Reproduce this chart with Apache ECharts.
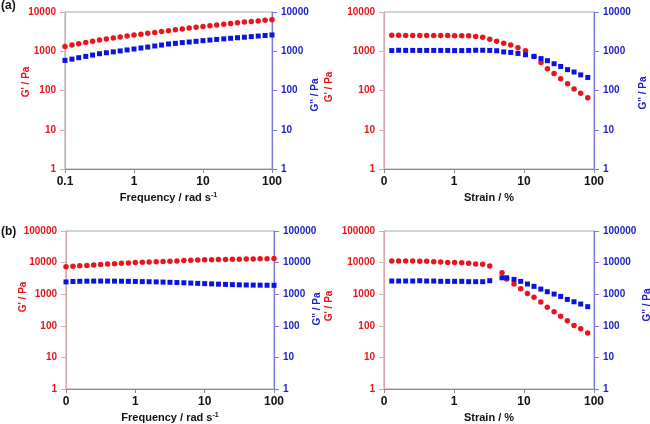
<!DOCTYPE html>
<html><head><meta charset="utf-8">
<script src="https://cdn.jsdelivr.net/npm/echarts@6/dist/echarts.min.js"></script>
<style>html,body{margin:0;padding:0;background:#fff}#c{width:650px;height:424px}</style>
</head><body><div id="c"></div>
<script>
// ---- data ----
const freq = [0.1,0.126,0.158,0.2,0.251,0.316,0.398,0.501,0.631,0.794,1,1.26,1.58,2,2.51,3.16,3.98,5.01,6.31,7.94,10,12.6,15.8,20,25.1,31.6,39.8,50.1,63.1,79.4,100];
const aFreqGp  = [1330,1435,1550,1670,1800,1940,2060,2180,2310,2450,2600,2730,2870,3020,3180,3340,3510,3690,3890,4090,4300,4490,4690,4890,5110,5340,5530,5730,5940,6150,6360];
const aFreqGpp = [585,630,685,740,800,865,915,965,1020,1080,1140,1210,1280,1360,1440,1530,1590,1660,1720,1790,1860,1930,2000,2070,2140,2210,2280,2360,2440,2520,2600];

const aStrain = [0.129,0.162,0.204,0.257,0.324,0.407,0.513,0.646,0.813,1.02,1.29,1.62,2.04,2.57,3.24,4.07,5.13,6.46,8.2,10.5,13.9,17.5,21.6,26.9,33.4,41.9,51.9,64.6,81.5];
const aStrainGp  = [2540,2540,2530,2530,2530,2520,2520,2510,2510,2500,2490,2470,2390,2260,2010,1790,1590,1440,1230,1030,730,520,360,270,200,148,110,85,65];
const aStrainGpp = [1040,1060,1050,1050,1050,1050,1050,1050,1050,1040,1040,1050,1060,1060,1050,1030,960,935,880,815,740,650,575,480,410,340,296,250,215];

const bFreqGp  = [7380,7630,7890,8150,8430,8710,8970,9240,9520,9790,10070,10270,10470,10680,10890,11100,11330,11550,11790,12020,12250,12360,12470,12580,12690,12800,12930,13060,13190,13320,13460];
const bFreqGpp = [2450,2520,2560,2590,2600,2600,2600,2590,2570,2550,2530,2500,2480,2450,2420,2380,2340,2300,2250,2200,2160,2120,2080,2040,2010,1980,1960,1940,1930,1920,1910];

const bStrain = [0.129,0.162,0.204,0.257,0.324,0.407,0.513,0.646,0.813,1.02,1.29,1.62,2.04,2.57,3.24,4.85,5.66,7.2,8.97,11.2,13.9,17.4,21.5,26.9,33.4,41.6,51.8,64.6,81.3];
const bStrainGp  = [11220,11220,11220,11220,10950,10950,10670,10420,10160,10160,9930,9460,9010,8800,7790,4770,3020,2100,1490,1060,795,566,383,279,200,145,103,81,59];
const bStrainGpp = [2610,2610,2610,2610,2670,2610,2610,2550,2550,2550,2550,2490,2490,2490,2670,3300,3300,2940,2550,2100,1770,1450,1200,1010,850,685,576,488,403];

const freqTicks = ['0.1','1','10','100'];
const strainTicks = ['0','1','10','100'];
const yTicksA = ['1','10','100','1000','10000'];
const yTicksB = ['1','10','100','1000','10000','100000'];
const panelLabels = ['(a)','(b)'];
const yNameL = "G' / Pa", yNameR = "G'' / Pa";

// ---- style ----
const FONT = 'Liberation Sans, Arial, sans-serif';
const RED = '#e8161c', BLUE = '#0a14e0', BLUE_T = '#2024c4', INK = '#111';
const chart = echarts.init(document.getElementById('c'), null, {renderer:'canvas'});

const grids = [
  {left:65, top:12, width:207, height:157},
  {left:384, top:12, width:210, height:157},
  {left:66, top:231, width:208, height:159},
  {left:384, top:231, width:210, height:158}
].map(g => Object.assign({show:true, borderColor:'#a8a8a8', borderWidth:1, backgroundColor:'transparent'}, g));

function lbl(ticks){ return v => ticks[Math.round(Math.log10(v)) + 1] ?? ''; }
function ylbl(ticks){ return v => ticks[Math.round(Math.log10(v))] ?? ''; }

const freqName = '{b|Frequency / rad s}{s|-1}';
const xNames = [freqName, 'Strain / %', freqName, 'Strain / %'];
const xTickSets = [freqTicks, strainTicks, strainTicks, strainTicks];

const xAxes = grids.map((g,i) => ({
  type:'log', logBase:10, min:0.1, max:100, gridIndex:i,
  axisLine:{show:true, lineStyle:{color:'#8a8a8a', width:1}},
  axisTick:{show:true, length:4, lineStyle:{color:'#8a8a8a'}},
  minorTick:{show:false}, splitLine:{show:false},
  axisLabel:{margin:7, fontSize:12, fontWeight:'bold', color:INK, fontFamily:FONT, formatter:lbl(xTickSets[i]), showMinLabel:true, showMaxLabel:true},
  name:xNames[i], nameLocation:'middle', nameGap:23,
  nameTextStyle:{color:INK, fontFamily:FONT, fontWeight:'bold', fontSize:11,
    rich:{b:{fontSize:11, fontWeight:'bold', color:INK, fontFamily:FONT},
          s:{fontSize:7, fontWeight:'bold', color:INK, fontFamily:FONT, verticalAlign:'top'}}}
}));

const yAxes = [];
grids.forEach((g,i) => {
  const big = i >= 2;
  const max = big ? 100000 : 10000;
  const ticks = big ? yTicksB : yTicksA;
  yAxes.push({type:'log', logBase:10, min:1, max:max, gridIndex:i, position:'left',
    axisLine:{show:true, lineStyle:{color:'#d6aaaa', width:1.2}},
    axisTick:{show:true, length:5, lineStyle:{color:'#d6aaaa'}},
    splitLine:{show:false}, minorTick:{show:false},
    axisLabel:{margin:9, fontSize:10, fontWeight:'bold', color:RED, fontFamily:FONT, formatter:ylbl(ticks), showMinLabel:true, showMaxLabel:true}});
  yAxes.push({type:'log', logBase:10, min:1, max:max, gridIndex:i, position:'right',
    axisLine:{show:true, lineStyle:{color:'#7a7ad8', width:1.2}},
    axisTick:{show:true, length:5, lineStyle:{color:'#7a7ad8'}},
    splitLine:{show:false}, minorTick:{show:false},
    axisLabel:{margin:9, fontSize:10, fontWeight:'bold', color:BLUE_T, fontFamily:FONT, formatter:ylbl(ticks), showMinLabel:true, showMaxLabel:true}});
});

const panelData = [
  [freq, aFreqGp, aFreqGpp],
  [aStrain, aStrainGp, aStrainGpp],
  [freq, bFreqGp, bFreqGpp],
  [bStrain, bStrainGp, bStrainGpp]
];
const series = [];
panelData.forEach((p,i) => {
  series.push({type:'scatter', xAxisIndex:i, yAxisIndex:2*i, symbol:'circle', symbolSize:5.5,
    itemStyle:{color:RED, opacity:1}, data:p[0].map((x,k)=>[x,p[1][k]]), z:2, silent:true});
  series.push({type:'scatter', xAxisIndex:i, yAxisIndex:2*i+1, symbol:'rect', symbolSize:5,
    itemStyle:{color:BLUE, opacity:1}, data:p[0].map((x,k)=>[x,p[2][k]]), z:3, silent:true});
});

const nameFont = 'bold 10px ' + FONT;
const namePos = [
  [26,82,yNameL,RED],[315,95,yNameR,BLUE_T],
  [329,87,yNameL,RED],[643,93,yNameR,BLUE_T],
  [23,297,yNameL,RED],[317,309,yNameR,BLUE_T],
  [329,306,yNameL,RED],[647,305,yNameR,BLUE_T]
];
const graphic = namePos.map(n => ({type:'text', x:n[0], y:n[1], rotation:Math.PI/2,
  style:{text:n[2], fill:n[3], font:nameFont, align:'center', verticalAlign:'middle'}}));
graphic.push({type:'text', x:1, y:6, style:{text:panelLabels[0], fill:INK, font:'bold 12px '+FONT, verticalAlign:'middle'}});
graphic.push({type:'text', x:1, y:232, style:{text:panelLabels[1], fill:INK, font:'bold 12px '+FONT, verticalAlign:'middle'}});

chart.setOption({animation:false, backgroundColor:'#fff', grid:grids, xAxis:xAxes, yAxis:yAxes, series:series, graphic:graphic});
</script></body></html>
